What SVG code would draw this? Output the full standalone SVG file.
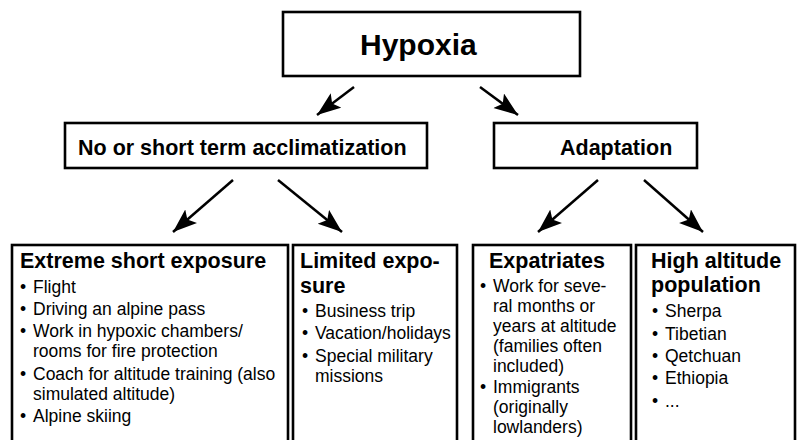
<svg xmlns="http://www.w3.org/2000/svg" width="797" height="440" viewBox="0 0 797 440">
<defs>
<marker id="ah" markerUnits="userSpaceOnUse" markerWidth="26" markerHeight="20" refX="24" refY="9" orient="auto">
<path d="M0,0 L24,9 L0,18 L5,9 z" fill="#000"/>
</marker>
<style>
.box{fill:#fff;stroke:#000;stroke-width:2.6}
.t{font-family:"Liberation Sans",Arial,sans-serif;fill:#000}
.h{font-weight:bold;font-size:21.5px}
.b{font-size:17.5px}
.c line{stroke:#000;stroke-width:2.5;marker-end:url(#ah)}
</style>
</defs>
<rect width="797" height="440" fill="#fff"/>
<g id="hypoxia">
<rect class="box" x="283" y="12" width="297" height="64"/>
<text class="t" x="360" y="55" font-size="30" font-weight="bold">Hypoxia</text>
</g>
<g id="acclimatization">
<rect class="box" x="65" y="123" width="362" height="45"/>
<text class="t h" x="78" y="155">No or short term acclimatization</text>
</g>
<g id="adaptation">
<rect class="box" x="494" y="123" width="203" height="45"/>
<text class="t h" x="560" y="155">Adaptation</text>
</g>
<g id="extreme">
<rect class="box" x="12" y="245" width="276" height="210"/>
<text class="t h" x="20" y="268">Extreme short exposure</text>
<g class="t b">
<text x="20" y="293">•</text><text x="33" y="293">Flight</text>
<text x="20" y="315">•</text><text x="33" y="315">Driving an alpine pass</text>
<text x="20" y="337">•</text><text x="33" y="337">Work in hypoxic chambers/</text>
<text x="33" y="357">rooms for fire protection</text>
<text x="20" y="380">•</text><text x="33" y="380">Coach for altitude training (also</text>
<text x="33" y="400">simulated altitude)</text>
<text x="20" y="422">•</text><text x="33" y="422">Alpine skiing</text>
</g>
</g>
<g id="limited">
<rect class="box" x="293" y="245" width="164" height="210"/>
<text class="t h" x="300" y="268">Limited expo-</text>
<text class="t h" x="300" y="293">sure</text>
<g class="t b">
<text x="302" y="317">•</text><text x="315" y="317">Business trip</text>
<text x="302" y="339">•</text><text x="315" y="339">Vacation/holidays</text>
<text x="302" y="362">•</text><text x="315" y="362">Special military</text>
<text x="315" y="382">missions</text>
</g>
</g>
<g id="expatriates">
<rect class="box" x="473" y="245" width="158" height="210"/>
<text class="t h" x="489" y="268">Expatriates</text>
<g class="t b">
<text x="480" y="292">•</text><text x="493" y="292">Work for seve-</text>
<text x="493" y="312">ral months or</text>
<text x="493" y="332">years at altitude</text>
<text x="493" y="352">(families often</text>
<text x="493" y="372">included)</text>
<text x="480" y="393">•</text><text x="493" y="393">Immigrants</text>
<text x="493" y="413">(originally</text>
<text x="493" y="433">lowlanders)</text>
</g>
</g>
<g id="highaltitude">
<rect class="box" x="636" y="245" width="159" height="210"/>
<text class="t h" x="651" y="268">High altitude</text>
<text class="t h" x="651" y="292">population</text>
<g class="t b">
<text x="652" y="317">•</text><text x="665" y="317">Sherpa</text>
<text x="652" y="340">•</text><text x="665" y="340">Tibetian</text>
<text x="652" y="362">•</text><text x="665" y="362">Qetchuan</text>
<text x="652" y="384">•</text><text x="665" y="384">Ethiopia</text>
<text x="652" y="407">•</text><text x="665" y="407">...</text>
</g>
</g>
<g id="connectors" class="c">
<line x1="354" y1="87" x2="317" y2="115"/>
<line x1="480" y1="87" x2="518" y2="115"/>
<line x1="233" y1="180" x2="173" y2="232"/>
<line x1="278" y1="180" x2="342" y2="232"/>
<line x1="598" y1="180" x2="538" y2="232"/>
<line x1="644" y1="180" x2="703" y2="232"/>
</g>
</svg>
